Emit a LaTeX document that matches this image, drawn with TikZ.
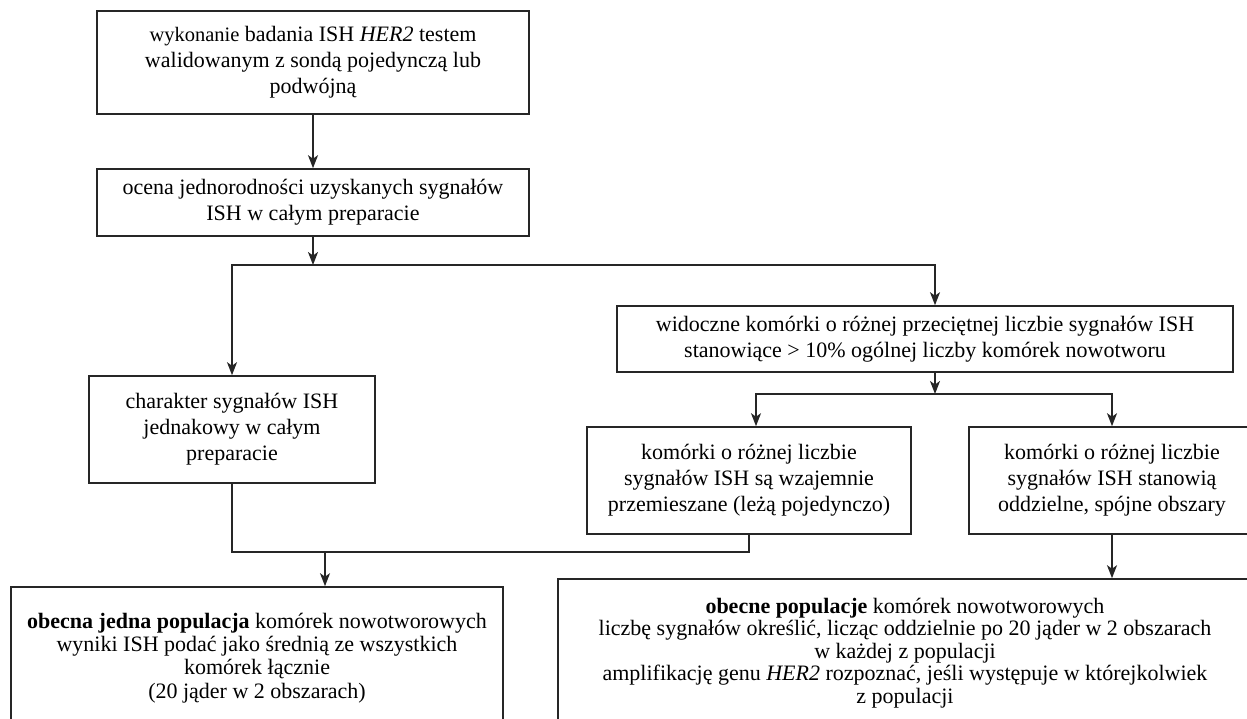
\documentclass[tikz,border=0pt]{standalone}
\usepackage{fontspec}
\setmainfont{Liberation Serif}
\usetikzlibrary{arrows.meta,calc}
\begin{document}
\begin{tikzpicture}[x=1pt,y=-1pt,
  box/.style={draw=black!85, line width=1.6pt, align=center, inner sep=0pt,
    font=\fontsize{22}{26}\selectfont},
  conn/.style={draw=black!85, line width=1.6pt, line cap=rect},
  arr/.style={conn, -{Stealth[length=13pt,width=10pt,inset=3.5pt]}}]
\useasboundingbox (0,0) rectangle (1247,718);

\node[box, minimum width=432pt, minimum height=103pt] (n1) at (313,62.5)
  {{\fontsize{20.5}{26}\selectfont wykonanie} badania ISH \textit{HER2} testem\\walidowanym z sondą pojedynczą lub\\podwójną};
\node[box, minimum width=432pt, minimum height=67pt] (n2) at (313,202.5)
  {ocena jednorodności uzyskanych sygnałów\\ISH w całym preparacie};
\node[box, minimum width=286pt, minimum height=107pt] (n3) at (232,429.5)
  {charakter sygnałów ISH\\jednakowy w całym\\preparacie};
\node[box, minimum width=616pt, minimum height=66pt] (n4) at (925,339)
  {widoczne komórki o różnej przeciętnej liczbie sygnałów ISH\\stanowiące > 10\% ogólnej liczby komórek nowotworu};
\node[box, minimum width=324pt, minimum height=107pt] (n5) at (749,480.5)
  {komórki o różnej liczbie\\sygnałów ISH są wzajemnie\\przemieszane (leżą pojedynczo)};
\node[box, minimum width=286pt, minimum height=107pt] (n6) at (1112,480.5)
  {komórki o różnej liczbie\\sygnałów ISH stanowią\\oddzielne, spójne obszary};
\node[box, font=\fontsize{22}{23.3}\selectfont, minimum width=492pt, minimum height=142pt] (n7) at (257,658)
  {\textbf{obecna jedna populacja} komórek nowotworowych\\wyniki ISH podać jako średnią ze wszystkich\\komórek łącznie\\(20 jąder w 2 obszarach)};
\node[box, font=\fontsize{22}{22.5}\selectfont, minimum width=694pt, minimum height=148pt] (n8) at (905,653)
  {\textbf{obecne populacje} komórek nowotworowych\\liczbę sygnałów określić, licząc oddzielnie po 20 jąder w 2 obszarach\\w każdej z populacji\\amplifikację genu \textit{HER2} rozpoznać, jeśli występuje w którejkolwiek\\z populacji};

\coordinate (j1) at (313,265);
\coordinate (jl) at (232,265);
\coordinate (jr) at (935,265);
\coordinate (j2) at (935,394);
\coordinate (sl) at (756,394);
\coordinate (sr) at (1112,394);
\coordinate (m1) at (232,552);
\coordinate (m2) at (749,552);
\coordinate (m3) at (325,552);

\draw[arr] (n1.south) -- (n2.north);
\draw[arr] (n2.south) -- (j1);
\draw[arr] (jr) -- (jl) -- (n3.north);
\draw[arr] (jr) -- (jr |- n4.north);
\draw[arr] (jr |- n4.south) -- (j2);
\draw[arr] (sr) -- (sl) -- (sl |- n5.north);
\draw[arr] (sr) -- (n6.north);
\draw[conn] (n3.south) -- (m1) -- (m2) -- (n5.south);
\draw[arr] (m3) -- (m3 |- n7.north);
\draw[arr] (n6.south) -- (n6.south |- n8.north);
\end{tikzpicture}
\end{document}
